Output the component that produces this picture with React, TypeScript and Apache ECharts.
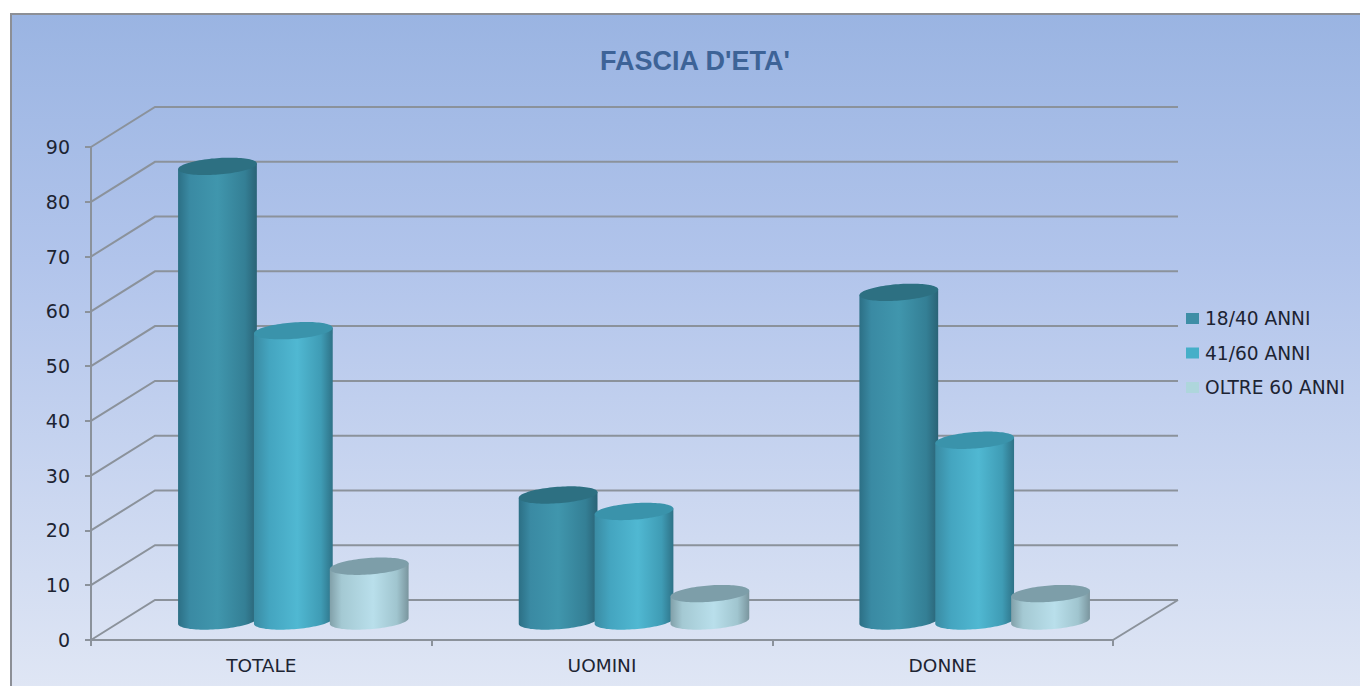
import React, { useEffect, useRef } from "react";
import * as echarts from "echarts";

const categories = ["TOTALE", "UOMINI", "DONNE"];
const seriesNames = ["18/40 ANNI", "41/60 ANNI", "OLTRE 60 ANNI"];
const young = [83, 23, 60];
const middle = [53, 20, 33];
const older = [10, 5, 5];
const yTicks = [0, 10, 20, 30, 40, 50, 60, 70, 80, 90];
const titleText = "FASCIA D'ETA'";

const DEPTH_X = 64;
const DEPTH_Y = 40;
const LINE = "#8b929b";
const TILT = (-4.3 * Math.PI) / 180;
const RX = 39.5;
const RY = 8.2;

type Look = { legend: string; top: string; body: [number, string][] };
const looks: Look[] = [
  {
    legend: "#3e8ea6",
    top: "#2d7082",
    body: [
      [0, "#2c6f85"],
      [0.15, "#3a8aa3"],
      [0.5, "#4096ad"],
      [0.85, "#347f95"],
      [1, "#2a6376"],
    ],
  },
  {
    legend: "#45afc8",
    top: "#3a93ab",
    body: [
      [0, "#3a8ba3"],
      [0.2, "#44a5c0"],
      [0.55, "#50b8d2"],
      [0.85, "#3f9cb5"],
      [1, "#2e7287"],
    ],
  },
  {
    legend: "#aed6dc",
    top: "#7d9ea9",
    body: [
      [0, "#81a0a9"],
      [0.15, "#a4c9d3"],
      [0.55, "#b9dfeb"],
      [0.85, "#a0c5cf"],
      [1, "#7a959e"],
    ],
  },
];

function ellipsePoint(cx: number, cy: number, t: number): number[] {
  const c = Math.cos(t) * RX;
  const s = Math.sin(t) * RY;
  return [cx + c * Math.cos(TILT) - s * Math.sin(TILT), cy + c * Math.sin(TILT) + s * Math.cos(TILT)];
}

function cylinderItem(look: Look, seriesIndex: number) {
  return (_params: any, api: any) => {
    const zero = api.coord([api.value(0), 0]);
    const tip = api.coord([api.value(0), api.value(1)]);
    const band = api.size([1, 0])[0];
    const cx = zero[0] + 32 + (seriesIndex - 1) * (band / 4.49);
    const bottomY = zero[1] - 19;
    const topY = tip[1] - 19;
    const bodyPoints: number[][] = [ellipsePoint(cx, topY, 0)];
    const topPoints: number[][] = [];
    const steps = 48;
    for (let k = 0; k <= steps; k++) {
      bodyPoints.push(ellipsePoint(cx, bottomY, (Math.PI * k) / steps));
    }
    bodyPoints.push(ellipsePoint(cx, topY, Math.PI));
    for (let k = 0; k < steps * 2; k++) {
      topPoints.push(ellipsePoint(cx, topY, (Math.PI * k) / steps));
    }
    return {
      type: "group",
      children: [
        {
          type: "polygon",
          shape: { points: bodyPoints },
          style: {
            fill: new echarts.graphic.LinearGradient(
              0,
              0,
              1,
              0,
              look.body.map(([offset, color]) => ({ offset, color }))
            ),
          },
        },
        { type: "polygon", shape: { points: topPoints }, style: { fill: look.top } },
      ],
    };
  };
}

export default function App() {
  const ref = useRef<HTMLDivElement>(null);

  useEffect(() => {
    document.body.style.margin = "0";
    document.body.style.background = "#ffffff";
    const chart = echarts.init(ref.current!, undefined, { renderer: "svg" });
    const values = [young, middle, older];
    chart.setOption({
      animation: false,
      title: {
        text: titleText,
        left: 690,
        top: 42,
        textAlign: "center",
        textStyle: {
          color: "#3d6397",
          fontFamily: "Liberation Sans",
          fontSize: 27,
          fontWeight: "bold",
        },
      },
      graphic: [
        {
          type: "rect",
          z: -10,
          silent: true,
          shape: { x: 11, y: 14, width: 1360, height: 700 },
          style: {
            stroke: "#8c8f96",
            lineWidth: 2,
            fill: new echarts.graphic.LinearGradient(0, 0, 0, 1, [
              { offset: 0, color: "#9ab4e2" },
              { offset: 0.35, color: "#b1c4eb" },
              { offset: 1, color: "#e2e8f5" },
            ]),
          },
        },
      ],
      legend: {
        data: seriesNames,
        orient: "vertical",
        left: 1181,
        top: 304,
        itemWidth: 13,
        itemHeight: 11,
        itemGap: 15.5,
        icon: "rect",
        selectedMode: false,
        textStyle: {
          color: "#1d2433",
          fontFamily: "DejaVu Sans",
          fontSize: 18.6,
          padding: [0, 0, 0, 1],
        },
      },
      grid: { left: 91, right: 247, top: 147, bottom: 46 },
      xAxis: {
        type: "category",
        data: categories,
        axisLine: { lineStyle: { color: LINE, width: 2 } },
        axisTick: { show: true, alignWithLabel: false, length: 6, lineStyle: { color: LINE, width: 2 } },
        axisLabel: {
          color: "#1d2433",
          fontFamily: "DejaVu Sans",
          fontSize: 18.5,
          margin: 16,
        },
      },
      yAxis: {
        type: "value",
        min: 0,
        max: 90,
        interval: 10,
        splitLine: { show: false },
        axisLine: { show: true, lineStyle: { color: LINE, width: 2 } },
        axisTick: { show: true, length: 6, lineStyle: { color: LINE, width: 2 } },
        axisLabel: {
          color: "#1d2433",
          fontFamily: "DejaVu Sans",
          fontSize: 19,
          margin: 21,
          padding: [4, 0, 0, 0],
        },
      },
      series: [
        {
          type: "custom",
          name: "griglia",
          silent: true,
          clip: false,
          z: 1,
          encode: { x: 0, y: 1 },
          data: yTicks.map((v) => [categories[0], v]),
          renderItem: (params: any, api: any) => {
            const y = api.coord([0, api.value(1)])[1];
            const left = params.coordSys.x;
            const right = left + params.coordSys.width;
            return {
              type: "polyline",
              shape: {
                points: [
                  [left, y],
                  [left + DEPTH_X, y - DEPTH_Y],
                  [right + DEPTH_X + 1, y - DEPTH_Y],
                ],
              },
              style: { stroke: LINE, lineWidth: 2, fill: "none" },
            };
          },
        },
        {
          type: "custom",
          name: "pavimento",
          silent: true,
          clip: false,
          z: 1,
          encode: { x: 0, y: 1 },
          data: [[categories[2], 0]],
          renderItem: (params: any, api: any) => {
            const y = api.coord([0, 0])[1];
            const right = params.coordSys.x + params.coordSys.width;
            return {
              type: "line",
              shape: { x1: right, y1: y, x2: right + DEPTH_X + 1, y2: y - DEPTH_Y },
              style: { stroke: LINE, lineWidth: 2 },
            };
          },
        },
        ...seriesNames.map((name, s) => ({
          type: "custom",
          name,
          clip: false,
          z: 3 + s,
          itemStyle: { color: looks[s].legend },
          encode: { x: 0, y: 1 },
          data: values[s].map((v, i) => [categories[i], v]),
          renderItem: cylinderItem(looks[s], s),
        })),
      ],
    });
    return () => chart.dispose();
  }, []);

  return <div ref={ref} style={{ width: 1360, height: 686, overflow: "hidden" }} />;
}
